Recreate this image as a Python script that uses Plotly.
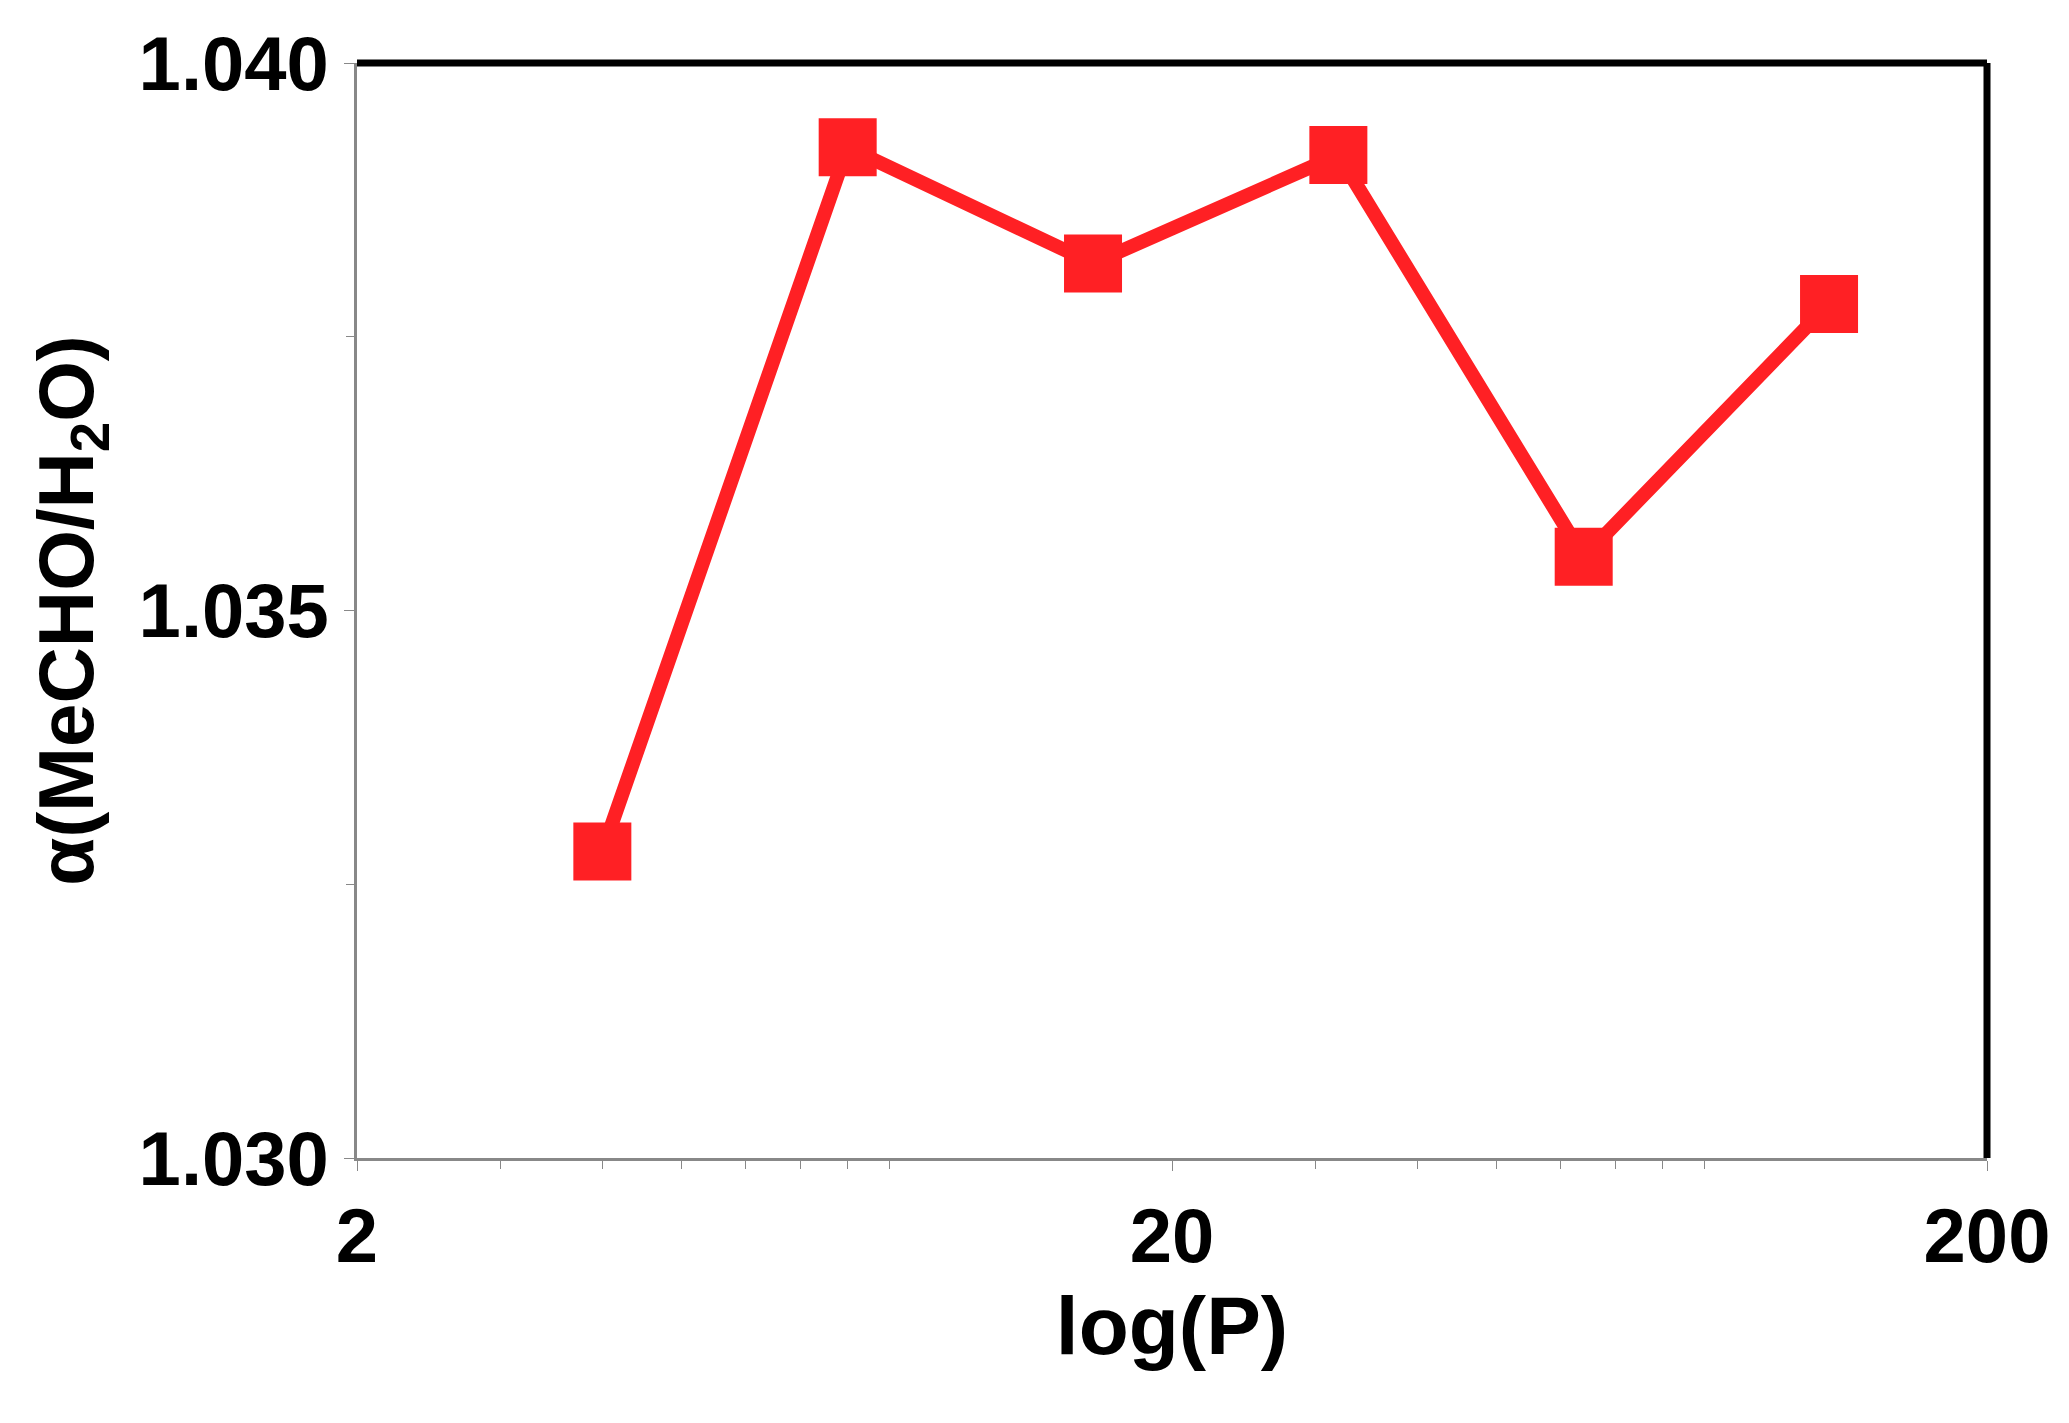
import plotly.graph_objects as go

pressure = [4, 8, 16, 32, 64, 128]
alpha = [1.0328, 1.03923, 1.03817, 1.03916, 1.03549, 1.0378]
x_ticks = [2, 20, 200]
x_minor = [3, 4, 5, 6, 7, 8, 9, 30, 40, 50, 60, 70, 80, 90]
y_ticks = [1.030, 1.035, 1.040]
y_ticktext = ["1.030", "1.035", "1.040"]

fig = go.Figure()
fig.add_trace(go.Scatter(
    x=pressure, y=alpha, mode="lines+markers",
    line=dict(color="#ff2024", width=14),
    marker=dict(symbol="square", size=58, color="#ff2024"),
))

font = dict(family="Liberation Sans", size=76, color="black")
fig.update_layout(
    width=2069, height=1423,
    margin=dict(l=349, r=90, t=55, b=273),
    paper_bgcolor="white", plot_bgcolor="white",
    showlegend=False,
    font=font,
)
fig.update_xaxes(
    type="log", range=[0.30103, 2.30103],
    tickvals=x_ticks, ticktext=["<b>2</b>", "<b>20</b>", "<b>200</b>"],
    ticks="outside", ticklen=10, tickcolor="#888",
    minor=dict(tickvals=x_minor, ticks="outside", ticklen=8, tickcolor="#888"),
    showline=True, linecolor="#888", linewidth=3, showgrid=False,
    title=dict(text="<b>log(P)</b>", font=dict(size=82), standoff=20),
)
fig.update_yaxes(
    range=[1.030, 1.040],
    tickvals=y_ticks, ticktext=["<b>%s</b>" % t for t in y_ticktext],
    ticks="outside", ticklen=10, tickcolor="#888",
    minor=dict(dtick=0.0025, ticks="outside", ticklen=8, tickcolor="#888"),
    showline=True, linecolor="#888", linewidth=3, showgrid=False,
    title=dict(text="<b>α(MeCHO/H<sub>2</sub>O)</b>", font=dict(size=78), standoff=20),
)
# thick black top and right frame
fig.add_shape(type="line", xref="paper", yref="paper", x0=0, x1=1, y0=1, y1=1,
              line=dict(color="black", width=7))
fig.add_shape(type="line", xref="paper", yref="paper", x0=1, x1=1, y0=0, y1=1,
              line=dict(color="black", width=7))

fig.write_html("out.html")
